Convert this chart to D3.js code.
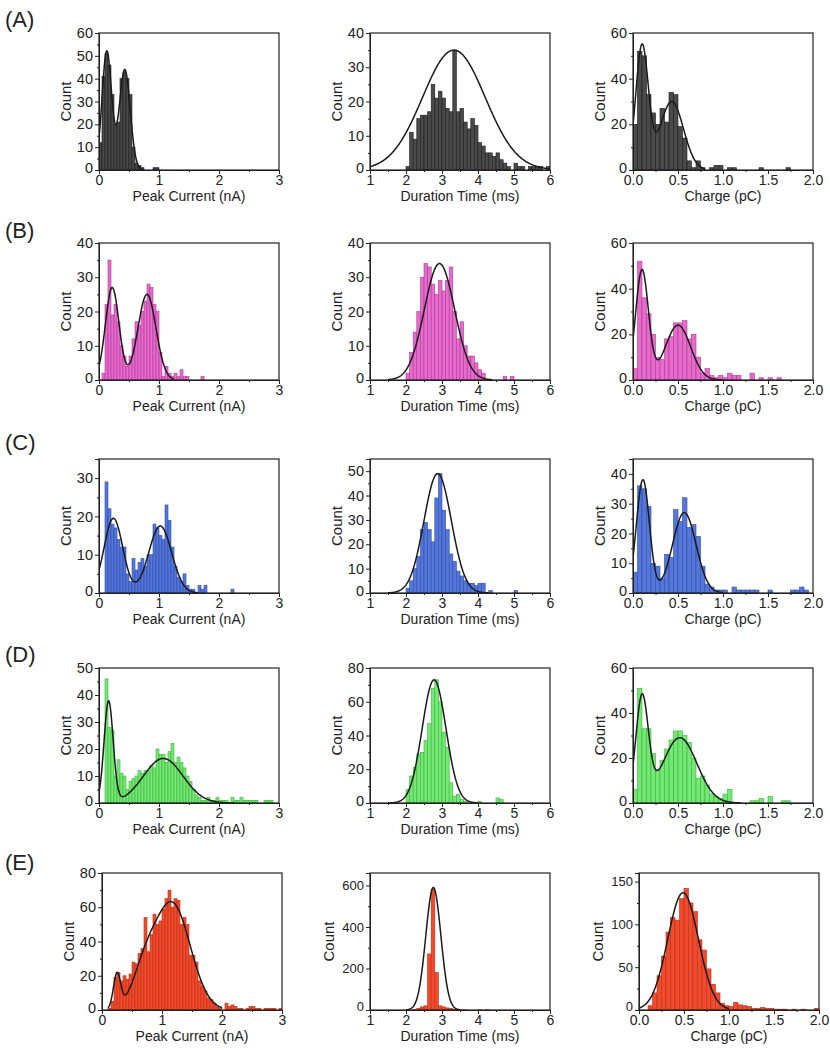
<!DOCTYPE html>
<html><head><meta charset="utf-8">
<script src="https://cdn.jsdelivr.net/npm/d3@7"></script>
<style>
body{margin:0;background:#fff}
text{font-family:Arial,"Liberation Sans",sans-serif;fill:#222}
</style></head>
<body><svg id="c" width="830" height="1050"></svg>
<script>
// ---------- labels & ticks ----------
const rowLabels = ["(A)","(B)","(C)","(D)","(E)"];
const xTitles = ["Peak Current (nA)","Duration Time (ms)","Charge (pC)"];
const peakTicks = [0,1,2,3];
const durTicks = [1,2,3,4,5,6];
const chargeTicks = [0,0.5,1,1.5,2];
// y axis maxima per row: [peak, duration, charge]
const yMaxA = [60,40,60], yMaxB = [40,40,60], yMaxC = [35,55,45], yMaxD = [50,80,60], yMaxE = [80,660,160];
// y ticks per row
const yTicksA = [[0,10,20,30,40,50,60],[0,10,20,30,40],[0,20,40,60]];
const yTicksB = [[0,10,20,30,40],[0,10,20,30,40],[0,20,40,60]];
const yTicksC = [[0,10,20,30],[0,10,20,30,40,50],[0,10,20,30,40]];
const yTicksD = [[0,10,20,30,40,50],[0,20,40,60,80],[0,20,40,60]];
const yTicksE = [[0,20,40,60,80],[0,200,400,600],[0,50,100,150]];
// bins: [start, width]
const peakBin = [0,0.05], durBin = [2.0,0.1], chargeBin = [0,0.05];

// ---------- histogram counts ----------
const aPeak = [12,41,51,46,33,20,21,40,43,40,33,10,3,2,1,0,0,0,1,1];
const aDur = [1,11,9,15,16,16,17,25,21,23,21,18,17,35,17,18,14,12,15,13,8,7,5,5,4,5,3,2,1,0,2,1,1,0,1,1,1,1,0,1];
const aCharge = [20,52,50,33,25,20,27,21,34,33,19,14,4,1,4,1,0,1,2,2,0,1,1,0,0,0,0,0,1,0,0,0,0,0,1];

const bPeak = [0,2,22,35,19,22,17,10,7,4,7,12,17,16,20,23,28,27,22,20,8,1,4,2,1,2,1,3,1,1,0,0,0,0,1];
const bDur = [2,8,14,20,30,34,33,28,25,29,26,29,33,20,12,17,10,7,7,5,3,2,0,0,0,0,0,1,0,1];
const bCharge = [5,52,36,29,20,10,9,18,19,25,25,26,18,20,10,3,5,2,1,2,1,3,2,2,0,0,3,0,1,0,1,0,1];

const cPeak = [0,0,29,22,18,17,14,12,12,5,3,9,6,8,9,7,10,10,18,17,15,14,23,19,12,7,4,3,5,2,1,1,0,2,1,2,0,0,0,0,0,0,0,0,1];
const cDur = [2,5,10,15,26,29,26,21,39,49,34,26,16,13,9,7,5,4,4,3,4,4,0,1,0,0,0,0,0,0,1];
const cCharge = [7,36,35,29,10,9,5,13,12,28,24,32,22,23,19,9,3,2,1,1,1,0,2,1,1,1,1,1,0,0,1,0,0,0,0,1,1,2,1];

const dPeak = [0,0,46,28,27,10,16,11,10,5,8,9,10,12,11,12,12,14,13,20,18,18,15,19,22,15,17,15,13,10,8,5,3,2,1,1,2,1,1,2,1,1,1,0,2,1,1,2,1,1,1,1,1,0,0,1,1,1];
const dDur = [8,16,21,29,30,37,47,68,73,60,42,33,12,4,5,2,1,0,0,0,1,0,0,0,0,3,2];
const dCharge = [6,51,33,33,22,15,19,24,28,32,32,30,27,20,11,12,8,4,3,2,4,6,0,0,0,0,1,1,2,0,3,0,0,1,1];

const ePeak = [0,0,1,5,19,22,17,20,18,21,28,27,33,36,54,34,44,56,50,52,59,65,70,60,65,64,50,54,50,32,32,28,17,14,11,7,6,4,2,1,0,4,2,3,2,1,1,0,1,2,2,1,1,0,1,1,1,1,0,1];
const eDur = [0,0,3,8,15,20,270,580,180,20,15,10,8,3,2,1,1,0,0,0,1,0,1];
const eCharge = [0,0,5,20,40,63,91,108,105,130,142,125,115,82,70,48,30,20,8,5,4,9,6,5,4,2,2,3,2,2,1,1,1,0,1,0,1,0,0,2];

// ---------- Gaussian fit parameters [center, amplitude, sigma] and drawn range ----------
const aPeakFit = [[0.13,52,0.08],[0.43,44,0.09]], aPeakRange = [0,0.75];
const aDurFit = [[3.33,35,0.87]], aDurRange = [1,6];
const aChargeFit = [[0.1,54,0.07],[0.43,30,0.13]], aChargeRange = [0,0.8];
const bPeakFit = [[0.22,27,0.113],[0.80,25,0.15]], bPeakRange = [0,1.25];
const bDurFit = [[2.93,34,0.42]], bDurRange = [1.5,4.4];
const bChargeFit = [[0.1,48,0.071],[0.5,24,0.14]], bChargeRange = [0,1.0];
const cPeakFit = [[0.24,19.5,0.156],[1.02,17.5,0.19]], cPeakRange = [0,1.65];
const cDurFit = [[2.88,49,0.38]], cDurRange = [1.5,4.3];
const cChargeFit = [[0.11,38,0.0725],[0.57,27,0.13]], cChargeRange = [0,1.0];
const dPeakFit = [[0.16,37.5,0.0756],[1.07,16.5,0.33]], dPeakRange = [0,2.25];
const dDurFit = [[2.78,73,0.33]], dDurRange = [1.5,4.0];
const dChargeFit = [[0.1,46,0.069],[0.52,29,0.19]], dChargeRange = [0,1.2];
const ePeakFit = [[0.25,20,0.06],[0.70,18,0.2],[1.17,62,0.3]], ePeakRange = [0.1,2.0];
const eDurFit = [[2.76,590,0.21]], eDurRange = [2.0,3.5];
const eChargeFit = [[0.49,137,0.17]], eChargeRange = [0,1.0];

// ---------- colours ----------
const rowFill = ["#4a4a4a","#e66ccb","#5577d8","#74e874","#f24a2c"];
const rowStroke = ["#1c1c1c","#b2389a","#2d4cb0","#3db33d","#b8301a"];

// ---------- layout ----------
const colX = [99,370,633];
const rowTop = [33,243,459,668,873];
const rowH = [137,137,134,135,137];
const rowShift = [[0,0,0],[0,0,0],[0,0,0],[0,0,0],[3,0,6]];
const rowLabelY = [27,238,450,662,870];
const plotW = 180;

const rows = [
  {counts:[aPeak,aDur,aCharge], fits:[aPeakFit,aDurFit,aChargeFit], ranges:[aPeakRange,aDurRange,aChargeRange], ymax:yMaxA, yt:yTicksA},
  {counts:[bPeak,bDur,bCharge], fits:[bPeakFit,bDurFit,bChargeFit], ranges:[bPeakRange,bDurRange,bChargeRange], ymax:yMaxB, yt:yTicksB},
  {counts:[cPeak,cDur,cCharge], fits:[cPeakFit,cDurFit,cChargeFit], ranges:[cPeakRange,cDurRange,cChargeRange], ymax:yMaxC, yt:yTicksC},
  {counts:[dPeak,dDur,dCharge], fits:[dPeakFit,dDurFit,dChargeFit], ranges:[dPeakRange,dDurRange,dChargeRange], ymax:yMaxD, yt:yTicksD},
  {counts:[ePeak,eDur,eCharge], fits:[ePeakFit,eDurFit,eChargeFit], ranges:[ePeakRange,eDurRange,eChargeRange], ymax:yMaxE, yt:yTicksE}
];
const colDomain = [[0,3],[1,6],[0,2]];
const colTicks = [peakTicks,durTicks,chargeTicks];
const colMinor = [[0.5,1.5,2.5],[1.5,2.5,3.5,4.5,5.5],[0.25,0.75,1.25,1.75]];
const colBins = [peakBin,durBin,chargeBin];
const colFmt = [d3.format("d"), d3.format("d"), d3.format(".1f")];

const svg = d3.select("#c");
let clipId = 0;

rows.forEach((row, r) => {
  svg.append("text").attr("x",5).attr("y",rowLabelY[r]).attr("font-size",22).text(rowLabels[r]);
  for (let c = 0; c < 3; c++) {
    const x0 = colX[c] + rowShift[r][c], y0 = rowTop[r], h = rowH[r];
    const x = d3.scaleLinear().domain(colDomain[c]).range([x0, x0 + plotW]);
    const y = d3.scaleLinear().domain([0, row.ymax[c]]).range([y0 + h, y0]);
    const g = svg.append("g");
    const cid = "clip" + (clipId++);
    g.append("clipPath").attr("id", cid).append("rect")
      .attr("x", x0).attr("y", y0).attr("width", plotW).attr("height", h);

    const [bs, bw] = colBins[c];
    const bins = row.counts[c].map((v, i) => ({a: bs + i * bw, b: bs + (i + 1) * bw, v})).filter(d => d.v > 0);
    g.append("g").attr("clip-path", `url(#${cid})`).selectAll("rect").data(bins).join("rect")
      .attr("x", d => x(d.a)).attr("width", d => x(d.b) - x(d.a))
      .attr("y", d => y(d.v)).attr("height", d => y(0) - y(d.v))
      .attr("fill", rowFill[r]).attr("stroke", rowStroke[r]).attr("stroke-width", 0.6);

    const fit = row.fits[c], rg = row.ranges[c];
    const pts = d3.range(0, 301).map(i => {
      const xv = rg[0] + (rg[1] - rg[0]) * i / 300;
      const yv = d3.sum(fit, p => p[1] * Math.exp(-Math.pow((xv - p[0]) / p[2], 2) / 2));
      return [xv, yv];
    });
    g.append("path").attr("clip-path", `url(#${cid})`).datum(pts)
      .attr("d", d3.line().x(d => x(d[0])).y(d => y(d[1])).curve(d3.curveLinear))
      .attr("fill", "none").attr("stroke", "#1a1a1a").attr("stroke-width", 1.5);

    const big = row.ymax[c] >= 100;
    const tickFont = big ? 13 : 14.5;
    // axes
    const xa = g.append("g").attr("transform", `translate(0,${y0 + h})`)
      .call(d3.axisBottom(x).tickValues(colTicks[c]).tickSize(4).tickPadding(1).tickFormat(colFmt[c]));
    g.append("g").attr("transform", `translate(0,${y0 + h})`)
      .call(d3.axisBottom(x).tickValues(colMinor[c]).tickSize(2).tickFormat(""))
      .call(s => s.select(".domain").remove());
    const step = row.yt[c][1] - row.yt[c][0];
    const ymin = d3.range(step / 2, row.ymax[c], step);
    const ya = g.append("g").attr("transform", `translate(${x0},0)`)
      .call(d3.axisLeft(y).tickValues(row.yt[c]).tickSize(4).tickPadding(2));
    g.append("g").attr("transform", `translate(${x0},0)`)
      .call(d3.axisLeft(y).tickValues(ymin).tickSize(2).tickFormat(""))
      .call(s => s.select(".domain").remove());
    xa.selectAll("text").attr("font-size", 14);
    ya.selectAll("text").attr("font-size", tickFont);
    ya.selectAll(".tick").filter(d => d === 0).select("text").attr("dy", big ? "0em" : "0.15em");
    [xa, ya].forEach(a => a.selectAll("text").attr("font-family", "Arial, 'Liberation Sans', sans-serif").attr("fill", "#222"));
    g.selectAll(".domain, .tick line").attr("stroke", "#222");
    g.append("rect").attr("x", x0).attr("y", y0).attr("width", plotW).attr("height", h)
      .attr("fill", "none").attr("stroke", "#222").attr("stroke-width", 1.2);

    g.append("text").attr("x", x0 + plotW / 2).attr("y", y0 + h + 31)
      .attr("text-anchor", "middle").attr("font-size", 14).text(xTitles[c]);
    g.append("text").attr("transform", `translate(${x0 - (big ? 36 : 28)},${y0 + h / 2}) rotate(-90)`)
      .attr("text-anchor", "middle").attr("font-size", 15).text("Count");
  }
});
</script>
</body></html>
